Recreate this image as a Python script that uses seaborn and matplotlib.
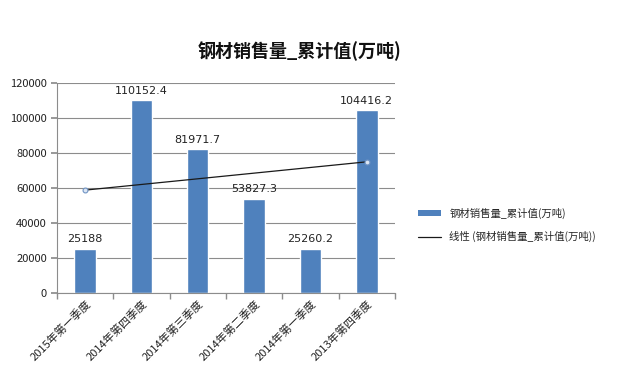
import matplotlib.pyplot as plt
import numpy as np
import pandas as pd
import seaborn as sns
from matplotlib.lines import Line2D
from matplotlib.patches import Patch

categories = ["2015年第一季度", "2014年第四季度", "2014年第三季度",
              "2014年第二季度", "2014年第一季度", "2013年第四季度"]
values = [25188, 110152.4, 81971.7, 53827.3, 25260.2, 104416.2]
value_labels = ["25188", "110152.4", "81971.7", "53827.3", "25260.2", "104416.2"]
series_name = "钢材销售量_累计值(万吨)"
trend_name = "线性 (钢材销售量_累计值(万吨))"

df = pd.DataFrame({"cat": categories, "val": values})

sns.set_theme(style="white")
plt.rcParams["font.family"] = ["Noto Sans CJK SC", "DejaVu Sans"]
plt.rcParams["axes.unicode_minus"] = False

fig = plt.figure(figsize=(6.24, 3.91), dpi=100)
ax = fig.add_axes([0.091, 0.251, 0.542, 0.537])

bar_color = "#4F81BD"
sns.barplot(data=df, x="cat", y="val", color=bar_color, saturation=1,
            width=0.38, ax=ax)

# linear trend line (least squares fit of the bars)
xs = np.arange(len(values))
k, b = np.polyfit(xs, values, 1)
trend = k * xs + b
ax.plot(xs, trend, color="#1a1a1a", lw=0.9,
        marker="o", markevery=[0, len(xs) - 1], ms=3.5,
        mfc="#dbe6f4", mec="#6f93c4", mew=0.8)

for i, (v, t) in enumerate(zip(values, value_labels)):
    ax.text(i, v + 2500, t, ha="center", va="bottom", fontsize=8,
            color="#222222", family=["DejaVu Sans"])

ax.set_ylim(0, 120000)
ax.set_yticks(range(0, 120001, 20000))
ax.set_xlim(-0.5, len(values) - 0.5)

ax.set_xlabel("")
ax.set_ylabel("")
ax.tick_params(axis="y", labelsize=8, length=4, color="#8c8c8c", left=True,
               labelcolor="#222222", pad=3)
ax.set_xticks(xs)
ax.set_xticklabels(categories, rotation=45, ha="right", rotation_mode="anchor",
                   fontsize=8, color="#222222")
ax.tick_params(axis="x", length=0, pad=4)
ax.set_xticks(np.arange(len(values) + 1) - 0.5, minor=True)
ax.tick_params(axis="x", which="minor", length=4, color="#8c8c8c", bottom=True)

ax.xaxis.grid(False, which="both")
ax.yaxis.grid(True, which="major", color="#8c8c8c", lw=0.8)
ax.set_axisbelow(True)
sns.despine(ax=ax)
ax.spines["left"].set_color("#8c8c8c")
ax.spines["bottom"].set_color("#8c8c8c")
ax.spines["left"].set_linewidth(0.8)
ax.spines["bottom"].set_linewidth(0.8)

fig.suptitle(series_name, x=0.48, y=0.895, fontsize=13, fontweight="bold",
             color="#111111")

handles = [Patch(facecolor=bar_color, edgecolor="none"),
           Line2D([0], [0], color="#1a1a1a", lw=0.9)]
fig.legend(handles, [series_name, trend_name], loc="center left",
           bbox_to_anchor=(0.655, 0.425), frameon=False,
           fontsize=7.5, handlelength=2.2, handleheight=0.5, labelspacing=1.2)

fig.savefig("out.png", dpi=100, facecolor="white")
